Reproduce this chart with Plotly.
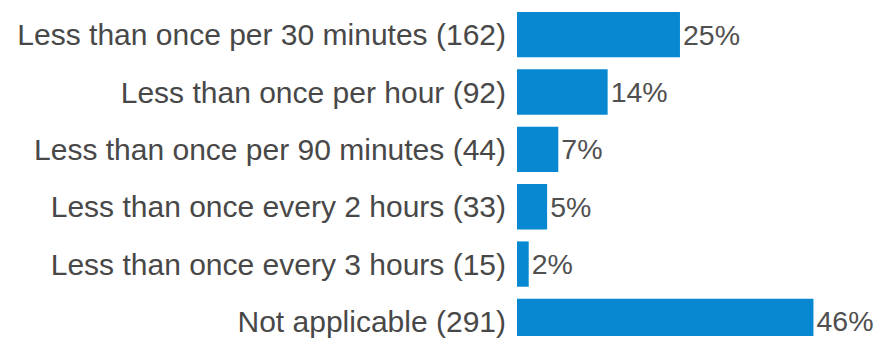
import plotly.graph_objects as go

categories = [
    "Less than once per 30 minutes (162)",
    "Less than once per hour (92)",
    "Less than once per 90 minutes (44)",
    "Less than once every 2 hours (33)",
    "Less than once every 3 hours (15)",
    "Not applicable (291)",
]
percent_values = [25.4, 14.4, 6.9, 5.2, 2.4, 45.7]
percent_labels = ["25%", "14%", "7%", "5%", "2%", "46%"]

fig = go.Figure(
    go.Bar(
        y=categories,
        x=percent_values,
        orientation="h",
        marker=dict(color="#0788D0", line=dict(width=0)),
        text=percent_labels,
        textposition="outside",
        cliponaxis=False,
        textfont=dict(family="Liberation Sans, Arial, sans-serif", size=28.5, color="#505050"),
        hoverinfo="skip",
    )
)

fig.update_layout(
    width=875,
    height=338,
    margin=dict(l=517, r=0, t=6, b=0),
    paper_bgcolor="white",
    plot_bgcolor="white",
    bargap=0.21,
    showlegend=False,
    font=dict(family="Liberation Sans, Arial, sans-serif", size=30, color="#484848"),
)
fig.update_xaxes(
    range=[0.62, 55.06],
    visible=False,
    showgrid=False,
    zeroline=False,
)
fig.update_yaxes(
    categoryorder="array",
    categoryarray=categories,
    range=[5.254, -0.5],
    showgrid=False,
    zeroline=False,
    showline=False,
    ticks="",
    ticklabelstandoff=10,
    tickfont=dict(family="Liberation Sans, Arial, sans-serif", size=30, color="#484848"),
)

fig.write_html("out.html")
